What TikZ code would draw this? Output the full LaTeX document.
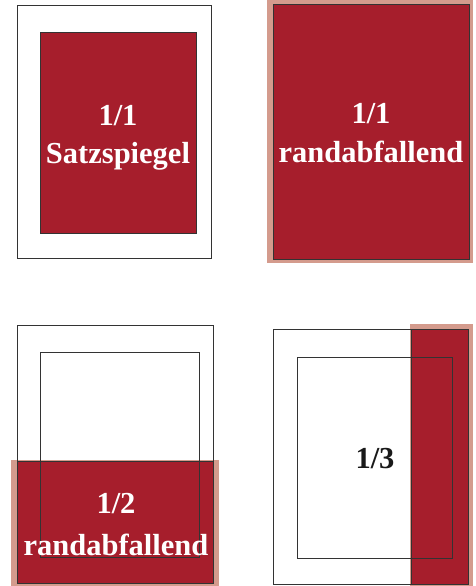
\documentclass[tikz,border=0pt]{standalone}
\usepackage{fontspec}
\setmainfont{Liberation Serif}
\usetikzlibrary{positioning}
\definecolor{adred}{HTML}{A61E2C}
\definecolor{adbleed}{HTML}{D49B8D}
\definecolor{adline}{HTML}{333333}
\tikzset{
  pageframe/.style = {draw=adline, line width=0.9pt},
  typearea/.style  = {draw=adline, line width=0.8pt},
  bleedbox/.style  = {fill=adbleed},
  adfill/.style    = {fill=adred, draw=adline, line width=0.7pt},
  adlabel/.style   = {anchor=base, inner sep=0pt, font=\fontsize{30.5}{36}\selectfont\bfseries, text=white},
  adlabeldark/.style = {adlabel, text=black!90},
}

\begin{document}
\begin{tikzpicture}[x={(1pt,0)}, y={(0,-1pt)}]
\useasboundingbox (0,0) rectangle (475,586);

% 1/1 Satzspiegel (top left)
\draw[pageframe] (17,5) rectangle (211,258);
\draw[adfill] (40,32) rectangle (196,233);
\node[adlabel] (ssnum) at (118,125) {1/1};
\node[adlabel] (sstext) at (118,163) {Satzspiegel};

% 1/1 randabfallend (top right)
\fill[bleedbox] (267,0) rectangle (473,263);
\draw[adfill] (273,4) rectangle (469,259);
\node[adlabel] (fullnum) at (371,123) {1/1};
\node[adlabel] (fulltext) at (371,162) {randabfallend};

% 1/2 randabfallend (bottom left)
\fill[bleedbox] (11,460) rectangle (219,586);
\fill[adred] (17,461) rectangle (213,583);
\draw[pageframe] (17,325) rectangle (213,583);
\draw[typearea] (40,352) rectangle (199,557);
\draw[adline, line width=0.7pt] (17,461) -- (213,461);
\node[adlabel] (halfnum) at (116,513) {1/2};
\node[adlabel] (halftext) at (116,555) {randabfallend};

% 1/3 (bottom right)
\fill[bleedbox] (410,324) rectangle (473,586);
\fill[adred] (411,329) rectangle (468,584);
\draw[pageframe] (273,329) rectangle (468,584);
\draw[typearea] (297,357) rectangle (452,558);
\draw[adline, line width=0.7pt] (411,329) -- (411,584);
\node[adlabeldark] (thirdnum) at (375,468) {1/3};
\end{tikzpicture}
\end{document}
